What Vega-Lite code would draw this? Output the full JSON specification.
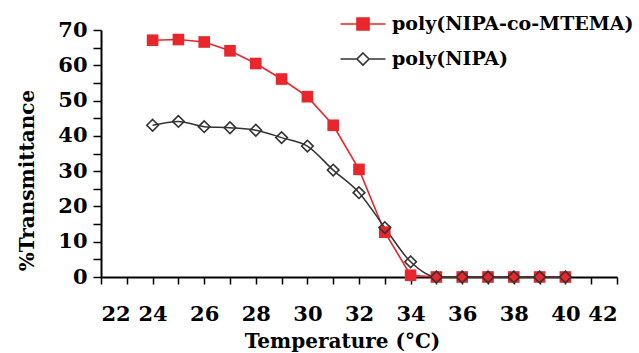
{
  "$schema": "https://vega.github.io/schema/vega-lite/v6.json",
  "autosize": "none",
  "width": 516,
  "height": 247,
  "padding": {"left": 101, "top": 30, "right": 22, "bottom": 76},
  "background": "white",
  "data": {"values": [
    {"t": 24, "v": 67.1, "s": "poly(NIPA-co-MTEMA)"},
    {"t": 25, "v": 67.3, "s": "poly(NIPA-co-MTEMA)"},
    {"t": 26, "v": 66.6, "s": "poly(NIPA-co-MTEMA)"},
    {"t": 27, "v": 64.1, "s": "poly(NIPA-co-MTEMA)"},
    {"t": 28, "v": 60.5, "s": "poly(NIPA-co-MTEMA)"},
    {"t": 29, "v": 56.1, "s": "poly(NIPA-co-MTEMA)"},
    {"t": 30, "v": 51.1, "s": "poly(NIPA-co-MTEMA)"},
    {"t": 31, "v": 43.0, "s": "poly(NIPA-co-MTEMA)"},
    {"t": 32, "v": 30.5, "s": "poly(NIPA-co-MTEMA)"},
    {"t": 33, "v": 12.7, "s": "poly(NIPA-co-MTEMA)"},
    {"t": 34, "v": 0.5, "s": "poly(NIPA-co-MTEMA)"},
    {"t": 35, "v": 0, "s": "poly(NIPA-co-MTEMA)"},
    {"t": 36, "v": 0, "s": "poly(NIPA-co-MTEMA)"},
    {"t": 37, "v": 0, "s": "poly(NIPA-co-MTEMA)"},
    {"t": 38, "v": 0, "s": "poly(NIPA-co-MTEMA)"},
    {"t": 39, "v": 0, "s": "poly(NIPA-co-MTEMA)"},
    {"t": 40, "v": 0, "s": "poly(NIPA-co-MTEMA)"},
    {"t": 24, "v": 43.0, "s": "poly(NIPA)"},
    {"t": 25, "v": 44.1, "s": "poly(NIPA)"},
    {"t": 26, "v": 42.6, "s": "poly(NIPA)"},
    {"t": 27, "v": 42.3, "s": "poly(NIPA)"},
    {"t": 28, "v": 41.6, "s": "poly(NIPA)"},
    {"t": 29, "v": 39.5, "s": "poly(NIPA)"},
    {"t": 30, "v": 37.1, "s": "poly(NIPA)"},
    {"t": 31, "v": 30.3, "s": "poly(NIPA)"},
    {"t": 32, "v": 23.9, "s": "poly(NIPA)"},
    {"t": 33, "v": 14.0, "s": "poly(NIPA)"},
    {"t": 34, "v": 4.3, "s": "poly(NIPA)"},
    {"t": 35, "v": 0, "s": "poly(NIPA)"},
    {"t": 36, "v": 0, "s": "poly(NIPA)"},
    {"t": 37, "v": 0, "s": "poly(NIPA)"},
    {"t": 38, "v": 0, "s": "poly(NIPA)"},
    {"t": 39, "v": 0, "s": "poly(NIPA)"},
    {"t": 40, "v": 0, "s": "poly(NIPA)"}
  ]},
  "encoding": {
    "x": {
      "field": "t", "type": "quantitative",
      "scale": {"domain": [22, 42], "nice": false, "zero": false},
      "axis": {
        "title": "Temperature (°C)",
        "values": [22,23,24,25,26,27,28,29,30,31,32,33,34,35,36,37,38,39,40,41,42],
        "labelExpr": "datum.value % 2 == 0 ? datum.label : ''",
        "grid": false, "domainColor": "#000", "domainWidth": 2,
        "tickColor": "#000", "tickWidth": 1.5, "tickSize": 7,
        "labelFont": "DejaVu Serif", "labelFontWeight": "bold", "labelFontSize": 21,
        "labelColor": "#000", "labelPadding": 19,
        "titleFont": "DejaVu Serif", "titleFontWeight": "bold", "titleFontSize": 20,
        "titleColor": "#000", "titlePadding": 7, "titleX": 241
      }
    },
    "y": {
      "field": "v", "type": "quantitative",
      "scale": {"domain": [0, 70], "nice": false},
      "axis": {
        "title": "%Transmittance",
        "values": [0,5,10,15,20,25,30,35,40,45,50,55,60,65,70],
        "labelExpr": "datum.value % 10 == 0 ? datum.label : ''",
        "grid": false, "domainColor": "#000", "domainWidth": 2,
        "tickColor": "#000", "tickWidth": 1.5, "tickSize": 8,
        "labelFont": "DejaVu Serif", "labelFontWeight": "bold", "labelFontSize": 21,
        "labelColor": "#000", "labelPadding": 6,
        "titleFont": "DejaVu Serif", "titleFontWeight": "bold", "titleFontSize": 20,
        "titleColor": "#000", "titlePadding": 20, "titleY": 150
      }
    }
  },
  "layer": [
    {
      "transform": [{"filter": "datum.s == 'poly(NIPA-co-MTEMA)'"}],
      "mark": {"type": "line", "color": "#e8262b", "strokeWidth": 1.6}
    },
    {
      "transform": [{"filter": "datum.s == 'poly(NIPA)'"}],
      "mark": {"type": "line", "color": "#333333", "strokeWidth": 1.5, "interpolate": "monotone"}
    },
    {
      "transform": [{"filter": "datum.s == 'poly(NIPA-co-MTEMA)'"}],
      "mark": {"type": "point", "shape": "square", "size": 135, "filled": true, "color": "#e8262b", "opacity": 1}
    },
    {
      "transform": [{"filter": "datum.s == 'poly(NIPA)'"}],
      "mark": {"type": "point", "shape": "diamond", "size": 135, "filled": false, "color": "#333333", "strokeWidth": 1.6, "opacity": 1}
    },
    {
      "transform": [{"filter": "false"}],
      "mark": {"type": "point", "opacity": 1, "strokeWidth": 1.6},
      "encoding": {
        "shape": {
          "field": "s", "type": "nominal",
          "scale": {"domain": ["poly(NIPA-co-MTEMA)", "poly(NIPA)"],
                    "range": ["M-1.875,0H-0.5M0.5,0H1.875M-0.5,-0.5H0.5V0.5H-0.5Z", "M-1.875,0H-0.5M0.5,0H1.875M0,-0.5L0.5,0L0,0.5L-0.5,0Z"]},
          "legend": {
            "title": null, "orient": "none", "legendX": 249, "legendY": -19,
            "labelFont": "DejaVu Serif", "labelFontWeight": "bold", "labelFontSize": 19,
            "labelColor": "#000", "labelLimit": 400, "symbolSize": 576, "rowPadding": 12, "labelOffset": 16,
            "symbolStrokeWidth": 1.6
          }
        },
        "stroke": {
          "field": "s", "type": "nominal",
          "scale": {"domain": ["poly(NIPA-co-MTEMA)", "poly(NIPA)"], "range": ["#e8262b", "#333333"]}
        },
        "fill": {
          "field": "s", "type": "nominal",
          "scale": {"domain": ["poly(NIPA-co-MTEMA)", "poly(NIPA)"], "range": ["#e8262b", "transparent"]}
        }
      }
    }
  ],
  "config": {"view": {"stroke": null}}
}
